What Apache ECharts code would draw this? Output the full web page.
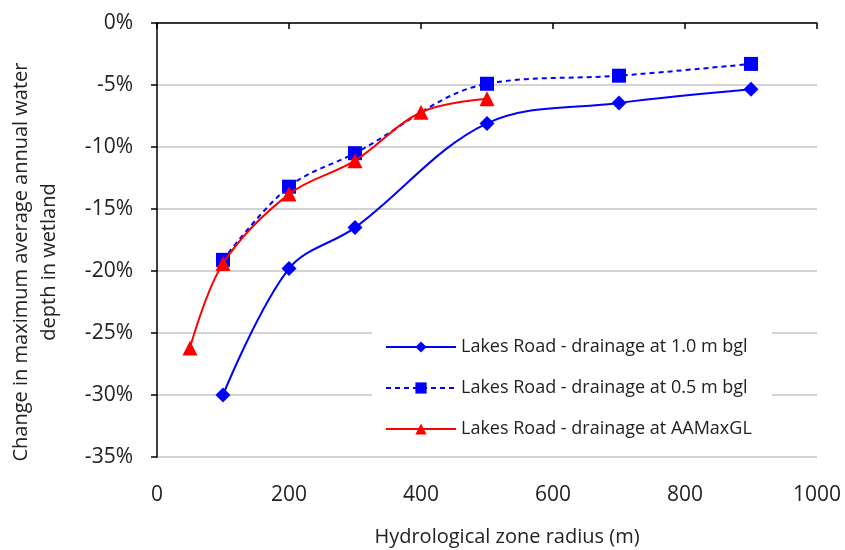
<!DOCTYPE html>
<html><head><meta charset="utf-8">
<script src="https://cdn.jsdelivr.net/npm/echarts@6/dist/echarts.min.js"></script>
<style>html,body{margin:0;padding:0;background:#fff}#c{width:845px;height:550px}</style>
</head><body><div id="c"></div>
<script>
const seriesNames = ["Lakes Road - drainage at 1.0 m bgl","Lakes Road - drainage at 0.5 m bgl","Lakes Road - drainage at AAMaxGL"];
const x1 = [100,200,300,500,700,900];
const y1 = [-30.0,-19.8,-16.5,-8.1,-6.45,-5.35];
const x2 = [100,200,300,500,700,900];
const y2 = [-19.1,-13.2,-10.5,-4.9,-4.25,-3.3];
const x3 = [50,100,200,300,400,500];
const y3 = [-26.2,-19.4,-13.8,-11.1,-7.2,-6.1];
const font = '"Open Sans", sans-serif';
const zip = (xs,ys)=>xs.map((x,i)=>[x,ys[i]]);
const chart = echarts.init(document.getElementById('c'));
chart.setOption({
  animation:false,
  grid:{left:157,right:28,top:23,bottom:93,containLabel:false,outerBoundsMode:'none'},
  xAxis:{type:'value',min:0,max:1000,interval:200,
    name:'Hydrological zone radius (m)',nameLocation:'middle',nameGap:70,
    nameTextStyle:{fontFamily:font,fontSize:20,color:'#222',padding:[0,0,0,40]},
    axisLine:{lineStyle:{color:'#000',width:1.5}},
    axisTick:{show:true,length:6,lineStyle:{color:'#000',width:1.5}},
    axisLabel:{fontFamily:font,fontSize:21,color:'#222',margin:28,formatter:v=>String(v)},
    splitLine:{show:false}},
  yAxis:{type:'value',min:-35,max:0,interval:5,
    name:'Change in maximum average annual water\ndepth in wetland',nameLocation:'middle',nameGap:94,
    nameTextStyle:{fontFamily:font,fontSize:20,color:'#222',lineHeight:28,padding:[0,44,0,0]},
    axisLine:{show:true,lineStyle:{color:'#000',width:1.5}},
    axisTick:{show:true,length:6,lineStyle:{color:'#000',width:1.5}},
    axisLabel:{fontFamily:font,fontSize:21,color:'#222',margin:24,formatter:v=>v+'%'},
    splitLine:{show:true,lineStyle:{color:'#c4c4c4',width:1.5}}},
  legend:{orient:'vertical',left:372,top:328,itemWidth:70,itemHeight:14,itemGap:23,
    backgroundColor:'#fff',padding:[10,20,14,13],
    textStyle:{fontFamily:font,fontSize:18,color:'#222'},
    data:seriesNames},
  series:[
    {name:seriesNames[0],type:'line',data:zip(x1,y1),smooth:0.35,symbol:'diamond',symbolSize:15,
     lineStyle:{color:'#0000ff',width:2},itemStyle:{color:'#0000ff'},z:3},
    {name:seriesNames[1],type:'line',data:zip(x2,y2),smooth:0.35,symbol:'rect',symbolSize:14,
     lineStyle:{color:'#0000ff',width:2,type:[5,4]},itemStyle:{color:'#0000ff'},z:2},
    {name:seriesNames[2],type:'line',data:zip(x3,y3),smooth:0.35,symbol:'triangle',symbolSize:15,
     lineStyle:{color:'#ff0000',width:2},itemStyle:{color:'#ff0000'},z:4}
  ]
});
</script></body></html>
